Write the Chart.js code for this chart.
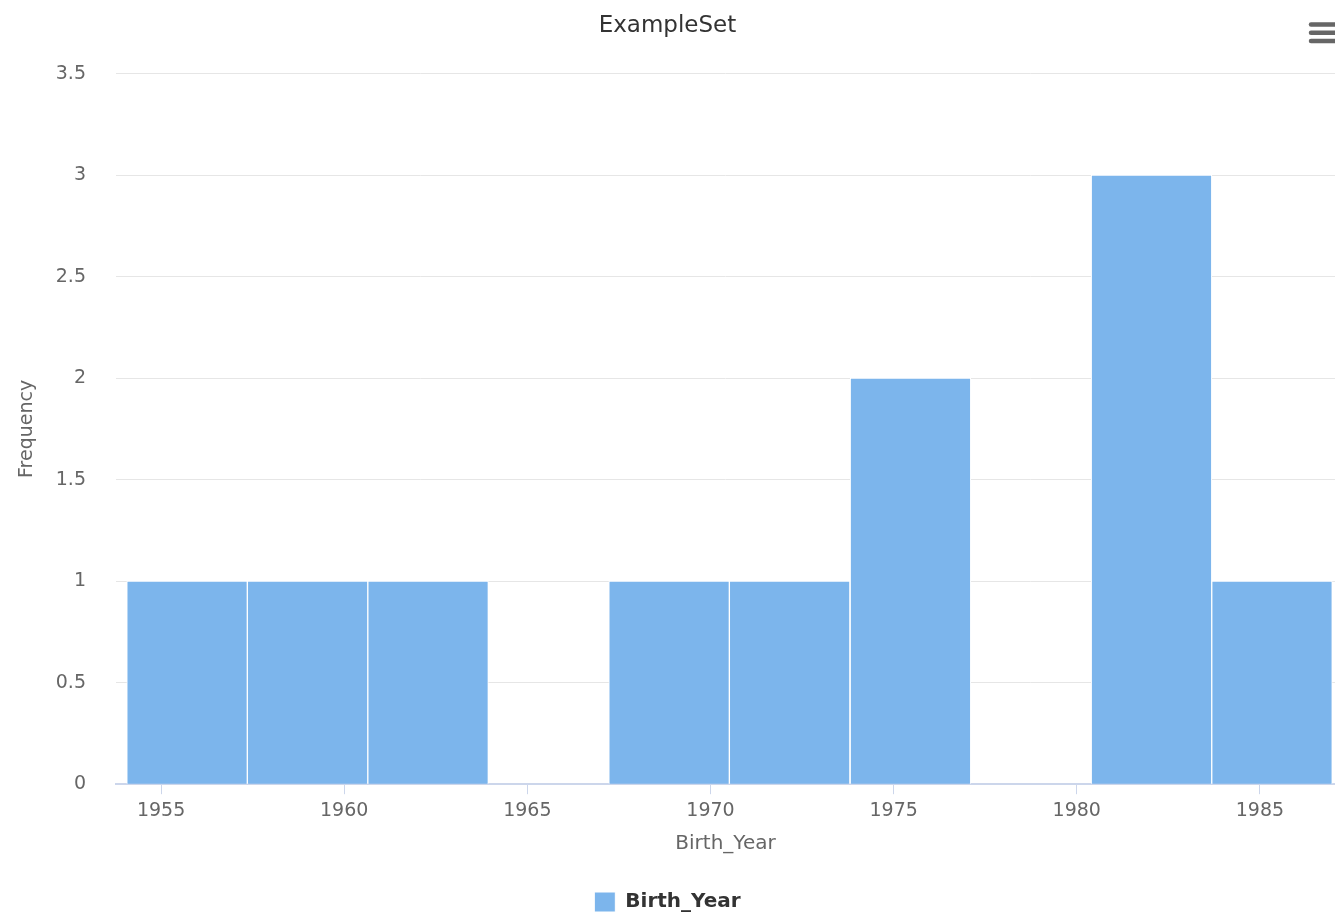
<!DOCTYPE html>
<html lang="en">
<head>
<meta charset="UTF-8">
<title>ExampleSet</title>
<script src="https://cdn.jsdelivr.net/npm/chart.js"></script>
<style>
  html, body { margin: 0; padding: 0; background: #fff; }
  #wrap { width: 1335px; height: 916px; }
</style>
</head>
<body>
<div id="wrap"><canvas id="histChart"></canvas></div>
<script>
// Histogram bins (centre of each Birth_Year bin) and their counts
const binCenters = [1955.71, 1959.0, 1962.29, 1965.58, 1968.87, 1972.16, 1975.46, 1978.75, 1982.04, 1985.33];
const frequencies = [1, 1, 1, 0, 1, 1, 2, 0, 3, 1];
const yearTicks = [1955, 1960, 1965, 1970, 1975, 1980, 1985];
const freqTicks = [0, 0.5, 1, 1.5, 2, 2.5, 3, 3.5];

const FONT = "'DejaVu Sans', sans-serif";

// the little export menu icon in the top right corner
const menuIcon = {
  id: 'menuIcon',
  afterDraw(chart) {
    const ctx = chart.ctx;
    ctx.save();
    ctx.strokeStyle = '#666';
    ctx.lineWidth = 4.5;
    ctx.lineCap = 'round';
    [24.5, 32.8, 41].forEach((y) => {
      ctx.beginPath();
      ctx.moveTo(1311, y);
      ctx.lineTo(1338, y);
      ctx.stroke();
    });
    ctx.restore();
  }
};

const ctx = document.getElementById('histChart').getContext('2d');
new Chart(ctx, {
  type: 'bar',
  data: {
    datasets: [{
      label: 'Birth_Year',
      data: binCenters.map((x, i) => ({ x: x, y: frequencies[i] })),
      backgroundColor: '#7cb5ec',
      borderColor: '#ffffff',
      borderWidth: 1,
      barPercentage: 1,
      categoryPercentage: 1
    }]
  },
  options: {
    responsive: true,
    maintainAspectRatio: false,
    animation: false,
    layout: { padding: { left: 0, right: 0, top: 0, bottom: -6 } },
    plugins: {
      title: {
        display: true,
        text: 'ExampleSet',
        color: '#333333',
        font: { family: FONT, size: 23, weight: 'normal' },
        padding: { top: 12, bottom: 34 }
      },
      legend: {
        position: 'bottom',
        labels: {
          color: '#333333',
          font: { family: FONT, size: 20, weight: 'bold' },
          boxWidth: 21,
          boxHeight: 20,
          padding: 0
        }
      },
      tooltip: { enabled: false }
    },
    scales: {
      x: {
        type: 'linear',
        min: 1953.77,
        max: 1987.05,
        offset: false,
        afterBuildTicks(axis) {
          axis.ticks = yearTicks.map((v) => ({ value: v }));
        },
        ticks: {
          color: '#666666',
          font: { family: FONT, size: 19 },
          padding: 5,
          maxRotation: 0,
          callback: (v) => String(v)
        },
        grid: {
          display: true,
          offset: false,
          drawOnChartArea: false,
          drawTicks: true,
          tickLength: 10,
          color: '#ccd6eb'
        },
        border: { display: true, color: '#ccd6eb', width: 2 },
        title: {
          display: true,
          text: 'Birth_Year',
          color: '#666666',
          font: { family: FONT, size: 20 },
          padding: { top: 5, bottom: 36 }
        }
      },
      y: {
        min: 0,
        max: 3.5,
        afterBuildTicks(axis) {
          axis.ticks = freqTicks.map((v) => ({ value: v }));
        },
        afterFit(axis) {
          axis.width = 116;
        },
        ticks: {
          color: '#666666',
          font: { family: FONT, size: 19 },
          padding: 30,
          callback: (v) => String(v)
        },
        grid: {
          color: '#e6e6e6',
          drawTicks: false
        },
        border: { display: false },
        title: {
          display: true,
          text: 'Frequency',
          color: '#666666',
          font: { family: FONT, size: 19 },
          padding: { top: 16, bottom: 0 }
        }
      }
    }
  },
  plugins: [menuIcon]
});
</script>
</body>
</html>
